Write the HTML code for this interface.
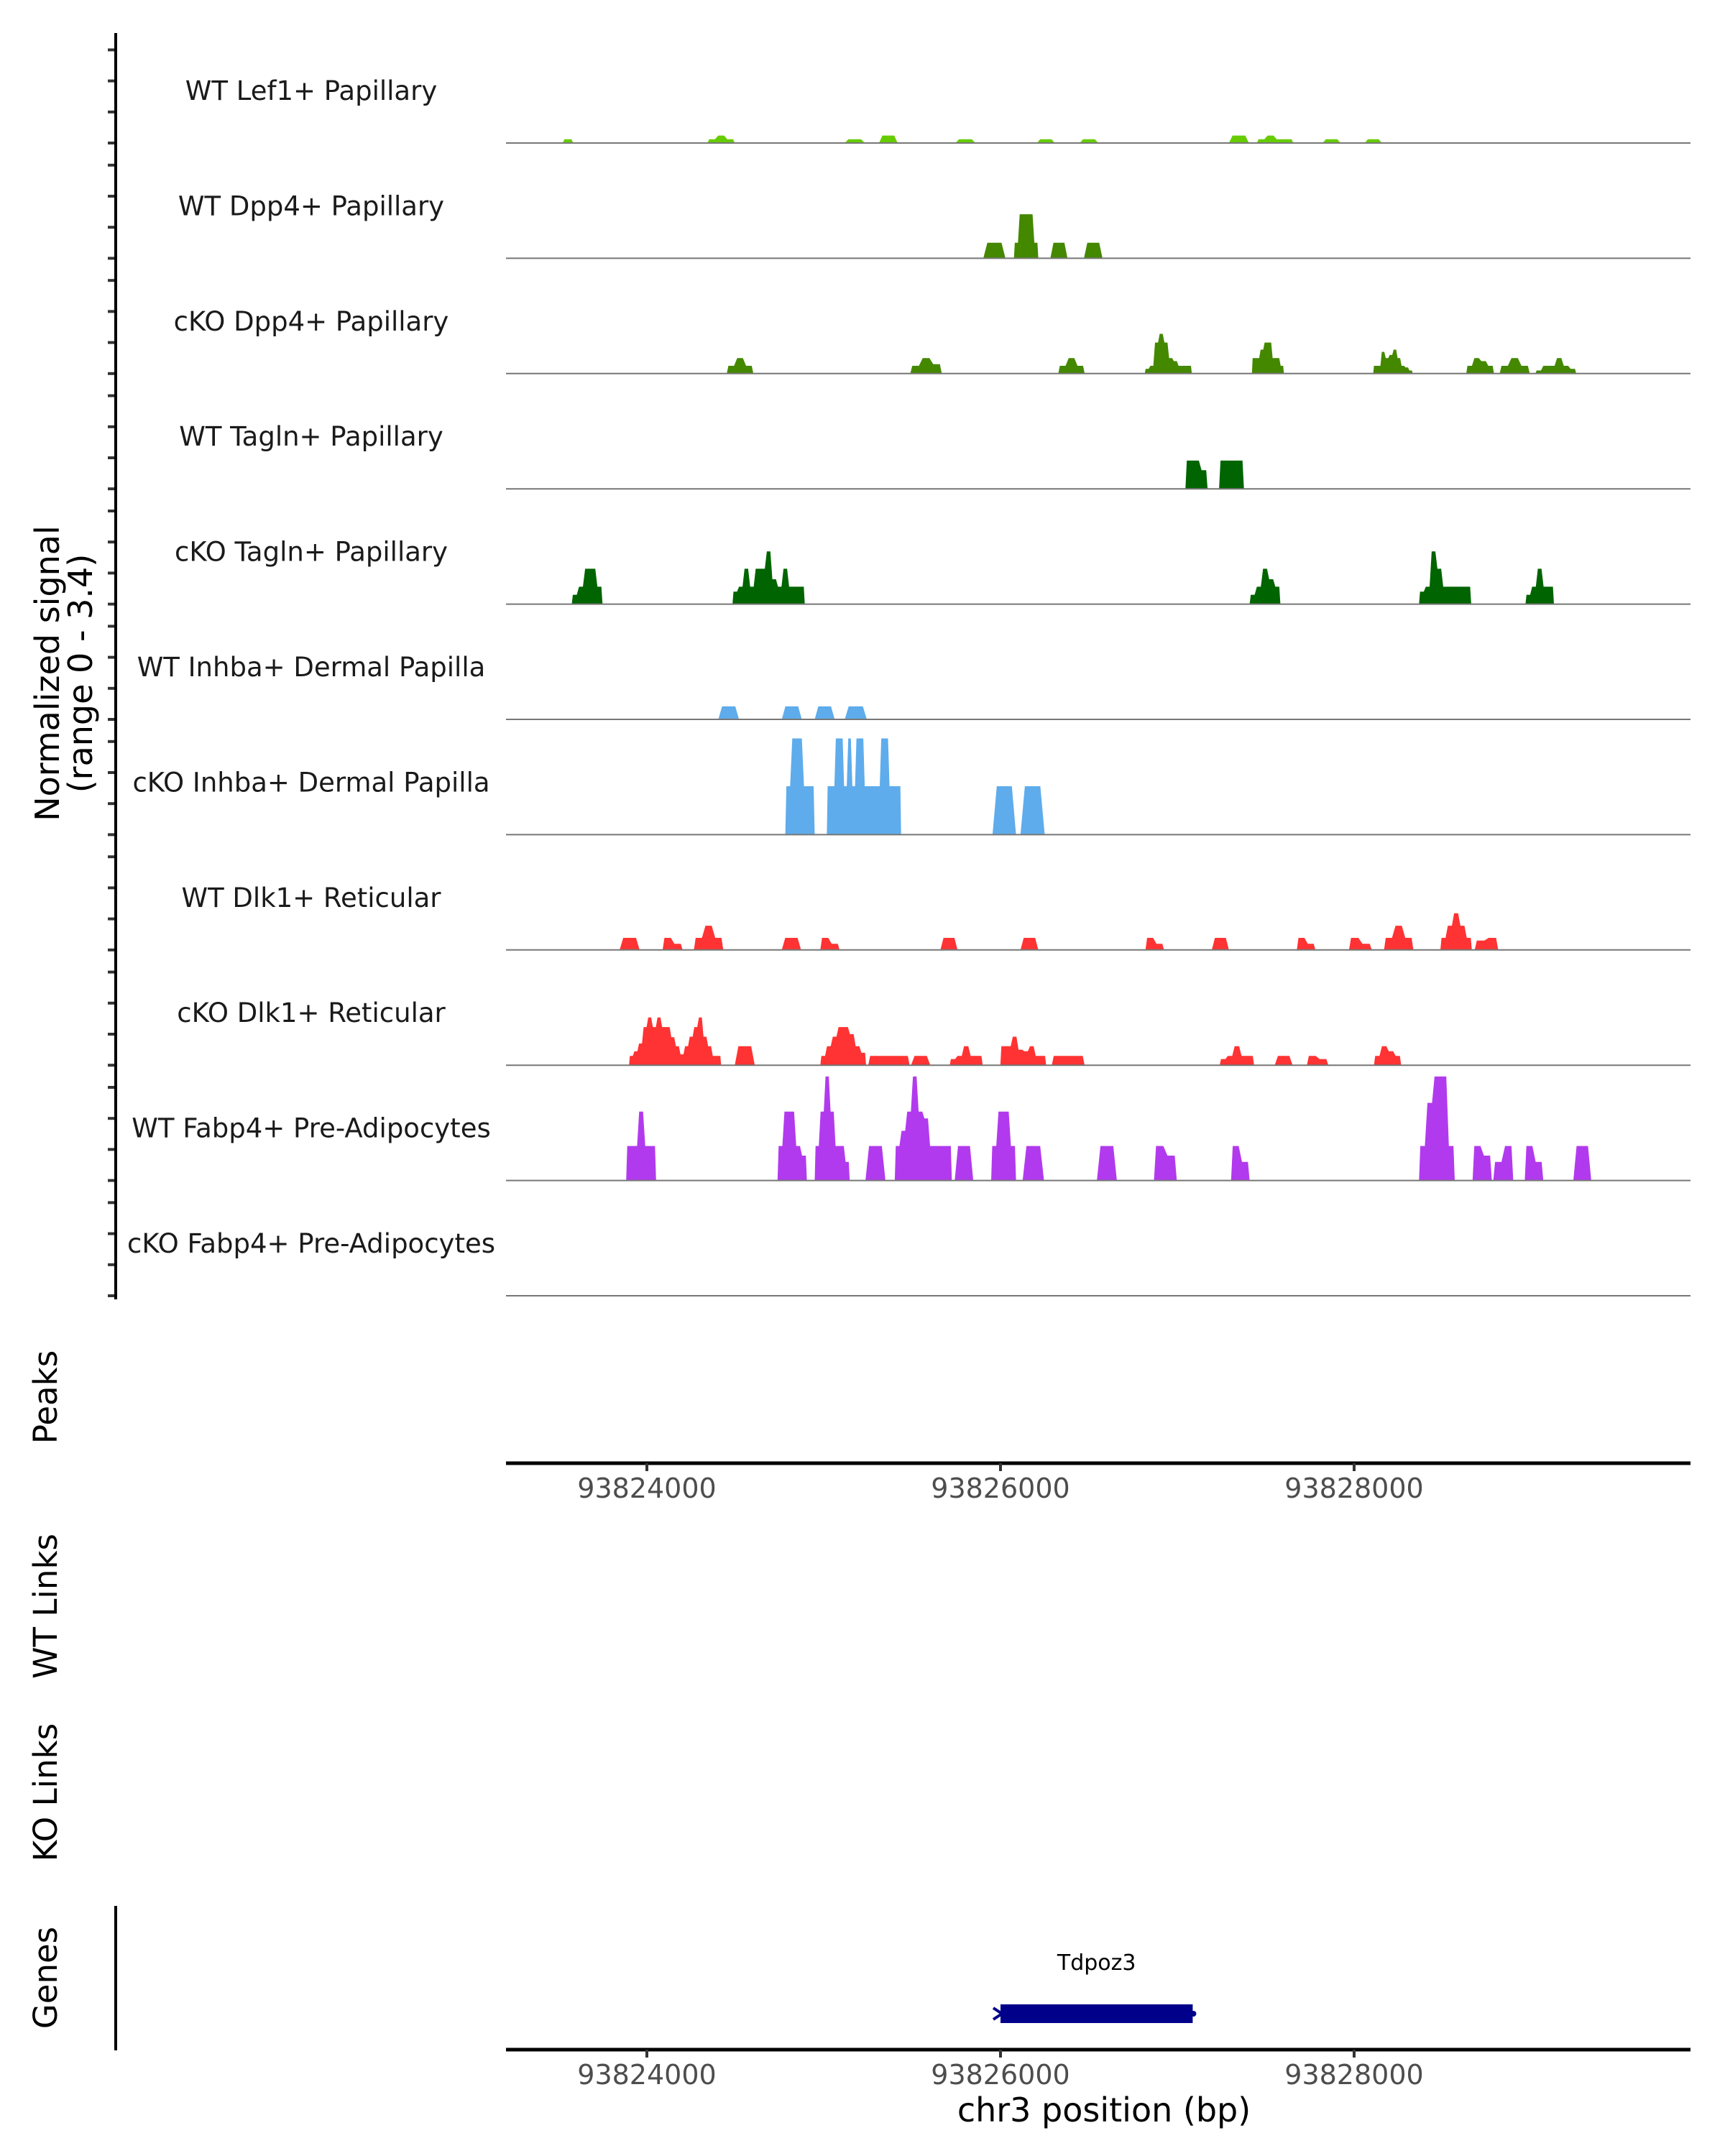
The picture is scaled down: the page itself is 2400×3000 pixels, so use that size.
<!DOCTYPE html>
<html><head><meta charset="utf-8"><style>
html,body{margin:0;padding:0;background:#fff;}
svg{display:block;font-family:"DejaVu Sans","Liberation Sans",sans-serif;}
</style></head><body>
<svg id="chart" width="2400" height="3000" viewBox="0 0 2400 3000" xmlns="http://www.w3.org/2000/svg">
<g id="tracks"></g>
<g id="axes"></g>
</svg>
<script>
const trackNames = ["WT Lef1+ Papillary","WT Dpp4+ Papillary","cKO Dpp4+ Papillary","WT Tagln+ Papillary","cKO Tagln+ Papillary","WT Inhba+ Dermal Papilla","cKO Inhba+ Dermal Papilla","WT Dlk1+ Reticular","cKO Dlk1+ Reticular","WT Fabp4+ Pre-Adipocytes","cKO Fabp4+ Pre-Adipocytes"];
const trackColors = ["#66cc00","#448800","#448800","#006400","#006400","#5eacec","#5eacec","#ff3333","#ff3333","#b23aee","#b23aee"];
const xTicks = [93824000,93826000,93828000];
const xTickLabels = ["93824000","93826000","93828000"];
const yTicks = [0,1,2,3];
const geneName = "Tdpoz3";
const geneStart = 93826000, geneEnd = 93827087;
// peaks: [startBp, endBp, [bin values]]
const lef1WT = [[93823523,93823584,[0.12]],[93824343,93824497,[0.12,0.24,0.12]],[93825119,93825232,[0.12]],[93825313,93825418,[0.24]],[93825745,93825858,[0.12]],[93826206,93826307,[0.12]],[93826448,93826553,[0.12]],[93827292,93827405,[0.24]],[93827450,93827656,[0.12,0.24,0.12,0.12]],[93827822,93827923,[0.12]],[93828060,93828157,[0.12]]];
const dpp4WT = [[93825903,93826028,[0.5]],[93826076,93826214,[0.5,1.42,1.42,1.42,0.5]],[93826282,93826379,[0.5]],[93826472,93826577,[0.5]]];
const dpp4KO = [[93824452,93824602,[0.25,0.5,0.25]],[93825490,93825668,[0.25,0.5,0.3]],[93826327,93826476,[0.25,0.5,0.25]],[93826816,93827082,[0.15,0.25,1.0,1.28,1.0,0.5,0.4,0.25,0.25,0.25]],[93827422,93827603,[0.5,0.5,0.77,1.0,1.0,0.5,0.5,0.25]],[93828108,93828331,[0.25,0.25,0.7,0.5,0.6,0.77,0.5,0.25,0.2,0.1]],[93828634,93828791,[0.25,0.5,0.4,0.25]],[93828823,93828993,[0.25,0.5,0.25]],[93829025,93829256,[0.1,0.25,0.25,0.5,0.25,0.15]]];
const taglnWT = [[93827046,93827171,[0.91,0.91,0.6]],[93827236,93827377,[0.91,0.91,0.91]]];
const taglnKO = [[93823575,93823749,[0.3,0.56,1.14,1.14,0.56]],[93824484,93824893,[0.4,0.56,1.14,0.56,1.14,1.14,1.7,0.8,0.56,1.14,0.56,0.56,0.56]],[93827409,93827583,[0.3,0.56,1.14,0.8,0.56]],[93828367,93828662,[0.4,0.56,1.7,1.14,0.56,0.56,0.56,0.56,0.56]],[93828969,93829130,[0.3,0.56,1.14,0.56,0.56]]];
const inhbaWT = [[93824404,93824521,[0.42]],[93824763,93824876,[0.42]],[93824949,93825062,[0.42]],[93825119,93825244,[0.42]]];
const inhbaKO = [[93824783,93824949,[1.56,3.1,3.1,1.56,1.56]],[93825018,93825438,[1.56,1.56,3.1,3.1,1.56,3.1,1.56,3.1,3.1,1.56,1.56,1.56,1.56,3.1,3.1,1.56,1.56,1.56]],[93825955,93826088,[1.56]],[93826113,93826250,[1.56]]];
const dlk1WT = [[93823846,93823959,[0.39]],[93824089,93824202,[0.39,0.2]],[93824266,93824432,[0.39,0.78,0.39]],[93824763,93824872,[0.39]],[93824981,93825090,[0.39,0.2]],[93825660,93825757,[0.39]],[93826113,93826214,[0.39]],[93826820,93826925,[0.39,0.2]],[93827195,93827292,[0.39]],[93827676,93827781,[0.39,0.2]],[93827971,93828100,[0.39,0.2]],[93828169,93828335,[0.39,0.78,0.39]],[93828488,93828666,[0.39,0.78,1.18,0.78,0.39]],[93828682,93828815,[0.3,0.39]]];
const dlk1KO = [[93823899,93824420,[0.3,0.45,0.7,1.23,1.54,1.23,1.54,1.23,1.23,0.9,0.61,0.35,0.61,0.92,1.23,1.54,0.92,0.61,0.3,0.3]],[93824497,93824610,[0.61]],[93824981,93825240,[0.3,0.61,0.92,1.23,1.23,1.0,0.61,0.4]],[93825252,93825486,[0.3,0.3,0.3,0.3]],[93825494,93825603,[0.3]],[93825713,93825899,[0.2,0.3,0.61,0.3,0.3]],[93825999,93826258,[0.61,0.61,0.92,0.5,0.45,0.61,0.3,0.3]],[93826290,93826476,[0.3,0.3,0.3]],[93827240,93827434,[0.2,0.3,0.61,0.3,0.3]],[93827551,93827652,[0.3]],[93827733,93827854,[0.3,0.2]],[93828112,93828266,[0.3,0.61,0.45,0.3]]];
const fabp4WT = [[93823883,93824052,[1.11,1.11,2.22,1.11,1.11]],[93824739,93824905,[1.11,2.22,2.22,1.11,0.8]],[93824949,93825147,[1.11,2.22,3.35,2.22,1.11,1.11,0.6]],[93825236,93825349,[1.11]],[93825402,93825725,[1.11,1.6,2.22,3.35,2.22,2.0,1.11,1.11,1.11,1.11]],[93825741,93825846,[1.11]],[93825947,93826088,[1.11,2.22,2.22,1.11]],[93826125,93826246,[1.11]],[93826545,93826658,[1.11]],[93826868,93826997,[1.11,0.8]],[93827304,93827409,[1.11,0.6]],[93828367,93828569,[1.11,2.5,3.35,3.35,1.11]],[93828670,93828779,[1.11,0.8]],[93828787,93828900,[0.6,1.11]],[93828965,93829070,[1.11,0.6]],[93829240,93829341,[1.11]]];
const fabp4KO = [];
const trackData = [lef1WT,dpp4WT,dpp4KO,taglnWT,taglnKO,inhbaWT,inhbaKO,dlk1WT,dlk1KO,fabp4WT,fabp4KO];

const NS="http://www.w3.org/2000/svg";
const X0=704, X1=2352;
const PX_PER_BP=492/2000, REF_BP=93824000, REF_PX=900;
const xs = bp => REF_PX + (bp-REF_BP)*PX_PER_BP;
const TOP0=199, STEP=160.4, UNIT=43.2;
const base = i => TOP0 + i*STEP;
const ys = (i,v) => base(i) - v*UNIT;
function mk(tag, attrs, parent){const e=document.createElementNS(NS,tag);for(const k in attrs)e.setAttribute(k,attrs[k]);parent.appendChild(e);return e;}
const tracksG=document.getElementById('tracks'), axesG=document.getElementById('axes');

trackData.forEach((peaks,i)=>{
  const g=mk('g',{},tracksG);
  
  
  peaks.forEach(p=>{
    const [s,e,vals]=p, n=vals.length, w=(e-s)/n;
    const pts=[[xs(s),base(i)]];
    vals.forEach((v,k)=>{
      const bs=s+k*w, be=bs+w, sl=Math.min(w*0.18,25);
      pts.push([xs(bs+sl),ys(i,v)]);
      pts.push([xs(be-sl),ys(i,v)]);
    });
    pts.push([xs(e),base(i)]);
    const poly=mk('polygon',{points:pts.map(q=>q[0].toFixed(1)+','+q[1].toFixed(1)).join(' '),fill:trackColors[i]},g);
    
    
  });
  const bl=mk('line',{x1:X0,x2:X1,y1:base(i),y2:base(i),stroke:'#777',"stroke-width":2},g);
  
  
  const lab=mk('text',{x:433,y:base(i)-60,"font-size":37,fill:'#1a1a1a',"text-anchor":'middle'},g);
  lab.textContent=trackNames[i];
  
  
  yTicks.forEach(t=>{
    const tk=mk('line',{x1:150,x2:161,y1:ys(i,t),y2:ys(i,t),stroke:'#333',"stroke-width":4},axesG);
    
    
  });
});
const yAx=mk('line',{x1:161,x2:161,y1:46,y2:1808,stroke:'#000',"stroke-width":4},axesG);



function xAxis(y,name){
  const g=mk('g',{},axesG);
  
  
  mk('line',{x1:X0,x2:X1,y1:y,y2:y,stroke:'#000',"stroke-width":5},g);
  xTicks.forEach((t,k)=>{
    mk('line',{x1:xs(t),x2:xs(t),y1:y,y2:y+11,stroke:'#333',"stroke-width":4},g);
    const tl=mk('text',{x:xs(t),y:y+48,"font-size":38,fill:'#4d4d4d',"text-anchor":'middle'},g);
    tl.textContent=xTickLabels[k];
    
    
  });
}
xAxis(2036,'peaks-x-axis');
xAxis(2852,'genes-x-axis');

function rotLabel(text,x,y,size,name){
  const t=mk('text',{x:0,y:0,"font-size":size,fill:'#000',"text-anchor":'middle',transform:`translate(${x},${y}) rotate(-90)`},axesG);
  t.textContent=text;
  
  
}
rotLabel('Normalized signal',82,937,46,'y-axis-title');
rotLabel('(range 0 - 3.4)',128,937,46,'y-axis-subtitle');
rotLabel('Peaks',79,1944,45,'peaks-title');
rotLabel('WT Links',79,2235,45,'wt-links-title');
rotLabel('KO Links',79,2494,45,'ko-links-title');
rotLabel('Genes',79,2752,45,'genes-title');

const gl=mk('line',{x1:161,x2:161,y1:2652,y2:2853,stroke:'#000',"stroke-width":4},axesG);


const gb=mk('rect',{x:xs(geneStart),y:2789,width:xs(geneEnd)-xs(geneStart),height:26,fill:'#00008b'},axesG);


const ga=mk('polyline',{points:`${xs(geneStart)-10},2794 ${xs(geneStart)+2},2802 ${xs(geneStart)-10},2810`,fill:'none',stroke:'#00008b',"stroke-width":4},axesG);


const gd=mk('circle',{cx:xs(geneEnd)+1,cy:2802,r:4,fill:'#00008b'},axesG);


const gt=mk('text',{x:(xs(geneStart)+xs(geneEnd))/2,y:2741,"font-size":30,fill:'#000',"text-anchor":'middle'},axesG);
gt.textContent=geneName;


const xt=mk('text',{x:1536,y:2952,"font-size":46,fill:'#000',"text-anchor":'middle'},axesG);
xt.textContent='chr3 position (bp)';


</script>
</body></html>
